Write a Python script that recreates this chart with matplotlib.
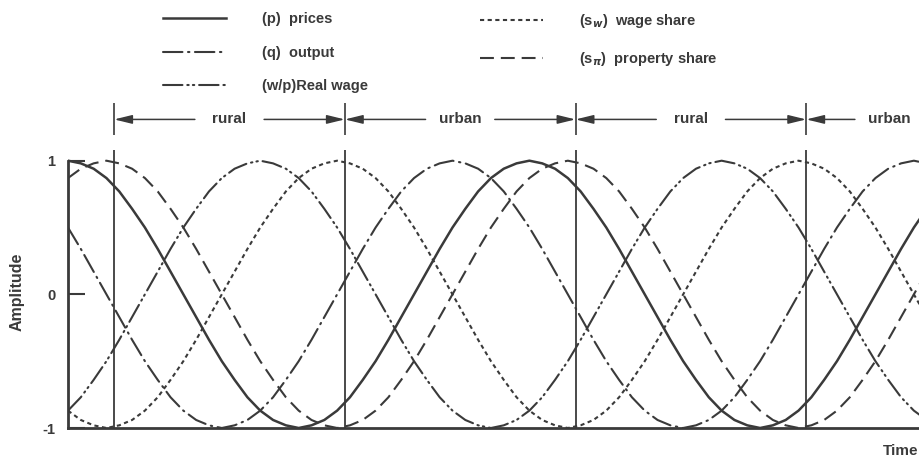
# %%
import matplotlib.pyplot as plt
from matplotlib.transforms import blended_transform_factory

plt.rcParams["font.family"] = ["Liberation Sans", "DejaVu Sans"]
plt.rcParams["font.weight"] = "bold"
plt.rcParams["lines.scale_dashes"] = False

# %%
# values (time in degrees of the cycle)
time_deg = [0, 10, 20, 30, 40, 50, 60, 70, 80, 90, 100, 110, 120, 130, 140,
            150, 160, 170, 180, 190, 200, 210, 220, 230, 240, 250, 260, 270,
            280, 290, 300, 310, 320, 330, 340, 350, 360, 370, 380, 390, 400,
            410, 420, 430, 440, 450, 460, 470, 480, 490, 500, 510, 520, 530,
            540, 550, 560, 570, 580, 590, 600, 610, 620, 630, 640, 650, 660,
            670]

prices = [1.00, 0.98, 0.94, 0.87, 0.77, 0.64, 0.50, 0.34, 0.17, 0.00, -0.17,
          -0.34, -0.50, -0.64, -0.77, -0.87, -0.94, -0.98, -1.00, -0.98, -0.94,
          -0.87, -0.77, -0.64, -0.50, -0.34, -0.17, 0.00, 0.17, 0.34, 0.50,
          0.64, 0.77, 0.87, 0.94, 0.98, 1.00, 0.98, 0.94, 0.87, 0.77, 0.64,
          0.50, 0.34, 0.17, 0.00, -0.17, -0.34, -0.50, -0.64, -0.77, -0.87,
          -0.94, -0.98, -1.00, -0.98, -0.94, -0.87, -0.77, -0.64, -0.50, -0.34,
          -0.17, 0.00, 0.17, 0.34, 0.50, 0.64]

output = [0.50, 0.34, 0.17, 0.00, -0.17, -0.34, -0.50, -0.64, -0.77, -0.87,
          -0.94, -0.98, -1.00, -0.98, -0.94, -0.87, -0.77, -0.64, -0.50, -0.34,
          -0.17, 0.00, 0.17, 0.34, 0.50, 0.64, 0.77, 0.87, 0.94, 0.98, 1.00,
          0.98, 0.94, 0.87, 0.77, 0.64, 0.50, 0.34, 0.17, 0.00, -0.17, -0.34,
          -0.50, -0.64, -0.77, -0.87, -0.94, -0.98, -1.00, -0.98, -0.94, -0.87,
          -0.77, -0.64, -0.50, -0.34, -0.17, 0.00, 0.17, 0.34, 0.50, 0.64,
          0.77, 0.87, 0.94, 0.98, 1.00, 0.98]

real_wage = [-0.87, -0.77, -0.64, -0.50, -0.34, -0.17, 0.00, 0.17, 0.34, 0.50,
             0.64, 0.77, 0.87, 0.94, 0.98, 1.00, 0.98, 0.94, 0.87, 0.77, 0.64,
             0.50, 0.34, 0.17, 0.00, -0.17, -0.34, -0.50, -0.64, -0.77, -0.87,
             -0.94, -0.98, -1.00, -0.98, -0.94, -0.87, -0.77, -0.64, -0.50,
             -0.34, -0.17, 0.00, 0.17, 0.34, 0.50, 0.64, 0.77, 0.87, 0.94, 0.98,
             1.00, 0.98, 0.94, 0.87, 0.77, 0.64, 0.50, 0.34, 0.17, 0.00, -0.17,
             -0.34, -0.50, -0.64, -0.77, -0.87, -0.94]

wage_share = [-0.87, -0.94, -0.98, -1.00, -0.98, -0.94, -0.87, -0.77, -0.64,
              -0.50, -0.34, -0.17, 0.00, 0.17, 0.34, 0.50, 0.64, 0.77, 0.87,
              0.94, 0.98, 1.00, 0.98, 0.94, 0.87, 0.77, 0.64, 0.50, 0.34, 0.17,
              0.00, -0.17, -0.34, -0.50, -0.64, -0.77, -0.87, -0.94, -0.98,
              -1.00, -0.98, -0.94, -0.87, -0.77, -0.64, -0.50, -0.34, -0.17,
              0.00, 0.17, 0.34, 0.50, 0.64, 0.77, 0.87, 0.94, 0.98, 1.00, 0.98,
              0.94, 0.87, 0.77, 0.64, 0.50, 0.34, 0.17, 0.00, -0.17]

property_share = [0.87, 0.94, 0.98, 1.00, 0.98, 0.94, 0.87, 0.77, 0.64, 0.50,
                  0.34, 0.17, 0.00, -0.17, -0.34, -0.50, -0.64, -0.77, -0.87,
                  -0.94, -0.98, -1.00, -0.98, -0.94, -0.87, -0.77, -0.64, -0.50,
                  -0.34, -0.17, 0.00, 0.17, 0.34, 0.50, 0.64, 0.77, 0.87, 0.94,
                  0.98, 1.00, 0.98, 0.94, 0.87, 0.77, 0.64, 0.50, 0.34, 0.17,
                  0.00, -0.17, -0.34, -0.50, -0.64, -0.77, -0.87, -0.94, -0.98,
                  -1.00, -0.98, -0.94, -0.87, -0.77, -0.64, -0.50, -0.34, -0.17,
                  0.00, 0.17]

boundaries = [36, 216, 396, 576]
regimes = ["rural", "urban", "rural", "urban"]
regime_mid = [126, 306, 486, 641]

ink = "#3a3a3a"

# %%
fig = plt.figure(figsize=(9.2, 4.58), dpi=100)
ax = fig.add_axes([68 / 920, 30 / 458, 851 / 920, 278 / 458])

l_p, = ax.plot(time_deg, prices, color=ink, lw=1.8, label="(p)  prices")
l_q, = ax.plot(time_deg, output, color=ink, lw=1.5, dashes=[14, 4, 1, 4],
               dash_capstyle="round", label="(q)  output")
l_w, = ax.plot(time_deg, real_wage, color=ink, lw=1.5,
               dashes=[14, 3.5, 1, 3, 1, 3.5], dash_capstyle="round",
               label="(w/p)Real wage")
l_sw, = ax.plot(time_deg, wage_share, color=ink, lw=1.5, dashes=[3, 2.5],
                label=r"(s$_w$)  wage share")
l_sp, = ax.plot(time_deg, property_share, color=ink, lw=1.5, dashes=[10, 5],
                label=r"(s$_\pi$)  property share")

for b in boundaries:
    ax.axvline(b, color=ink, lw=1.3)

ax.set_xlim(0, 664)
ax.set_ylim(-1, 1.08)
ax.set_xticks([])
ax.set_yticks([-1, 0, 1], ["-1", "0", "1"])
ax.tick_params(axis="y", direction="in", length=12, width=1.5, pad=9,
               labelsize=10.5, colors=ink)
for side in ["top", "right"]:
    ax.spines[side].set_visible(False)
ax.spines["left"].set_bounds(-1, 1)
for side in ["left", "bottom"]:
    ax.spines[side].set_linewidth(2)
    ax.spines[side].set_color(ink)

# rural / urban arrows above the plot
trans = blended_transform_factory(ax.transData, ax.transAxes)
ax.vlines(boundaries, 1.055, 1.17, transform=trans, color=ink, lw=1.2,
          clip_on=False)
arrow = dict(arrowstyle="-|>,head_length=0.9,head_width=0.22", color=ink,
             lw=1.1, shrinkA=0, shrinkB=0, mutation_scale=12)
for i, (name, mid) in enumerate(zip(regimes, regime_mid)):
    ax.text(mid, 1.11, name, transform=trans, ha="center", va="center",
            fontsize=11, color=ink)
    ax.annotate("", xy=(boundaries[i], 1.11), xycoords=trans,
                xytext=(mid - 27, 1.11), textcoords=trans, arrowprops=arrow,
                annotation_clip=False)
    if i + 1 < len(boundaries):
        ax.annotate("", xy=(boundaries[i + 1], 1.11), xycoords=trans,
                    xytext=(mid + 27, 1.11), textcoords=trans,
                    arrowprops=arrow, annotation_clip=False)

fig.text(17 / 920, 1 - 292 / 458, "Amplitude", rotation=90, ha="center",
         va="center", fontsize=11.5, color=ink)
fig.text(918 / 920, 1 - 451 / 458, "Time", ha="right", va="center",
         fontsize=11, color=ink)

leg_kw = dict(loc="upper left", frameon=False, handlelength=4.3,
              handletextpad=2.5, labelspacing=1.35, borderpad=0,
              borderaxespad=0, fontsize=10.5, labelcolor=ink)
fig.legend(handles=[l_p, l_q, l_w], bbox_to_anchor=(163 / 920, 1 - 12 / 458),
           **leg_kw)
fig.legend(handles=[l_sw, l_sp], bbox_to_anchor=(480 / 920, 1 - 12 / 458),
           **leg_kw)

fig.savefig("out.png", dpi=100, facecolor="white")
